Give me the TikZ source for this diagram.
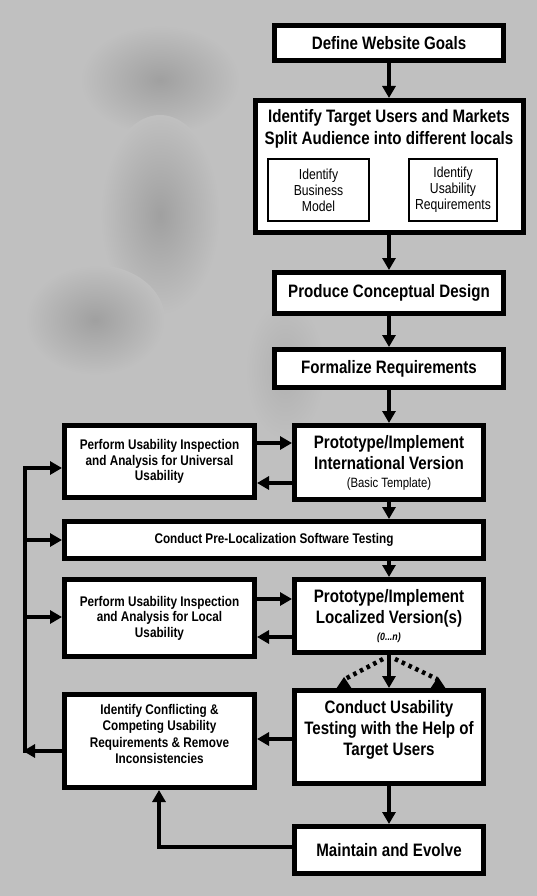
\documentclass[tikz,border=0pt]{standalone}
\usepackage{fontspec}
\setmainfont{Liberation Sans}[FakeStretch=0.84]
\usetikzlibrary{arrows.meta}
\definecolor{bg}{RGB}{192,192,192}
\definecolor{smudge}{RGB}{160,160,160}
\begin{document}
\begin{tikzpicture}[x=1pt,y=-1pt,
  box/.style={draw=black, line width=5pt, fill=white, inner sep=0pt, align=center},
  bigtxt/.style={font=\fontsize{18}{21}\selectfont\bfseries},
  midtxt/.style={font=\fontsize{14}{15.5}\selectfont\bfseries},
  inbox/.style={draw=black, line width=2pt, fill=white, inner sep=0pt, align=center, font=\fontsize{14.5}{16}\selectfont},
  txt/.style={inner sep=0pt, align=center},
  arr/.style={line width=4pt, -{Triangle[length=12pt,width=13pt]}},
  ln/.style={line width=4pt},
  dots/.style={line width=4.5pt, dash pattern=on 3.5pt off 4pt}
]
% background
\fill[bg] (0,0) rectangle (537,896);
\useasboundingbox (0,0) rectangle (537,896);
\shade[inner color=smudge, outer color=bg] (160,80) ellipse (80pt and 55pt);
\shade[inner color=smudge, outer color=bg] (160,215) ellipse (60pt and 100pt);
\shade[inner color=smudge, outer color=bg] (95,320) ellipse (70pt and 55pt);
\shade[inner color=smudge!50!bg, outer color=bg] (285,370) ellipse (40pt and 70pt);

% boxes
\node[box, minimum width=229pt, minimum height=35pt, bigtxt] (goals) at (389,43) {Define Website Goals};
\node[box, minimum width=268pt, minimum height=132pt] (target) at (389,166.5) {};
\node[txt, font=\fontsize{18}{22}\selectfont\bfseries] (targetT) at (389,129) {Identify Target Users and Markets\\Split Audience into different locals};
\node[inbox, minimum width=101pt, minimum height=62pt] (biz) at (318.5,190) {Identify\\Business\\Model};
\node[inbox, minimum width=88pt, minimum height=62pt] (usereq) at (453,190) {Identify\\Usability\\Requirements};
\node[box, minimum width=229pt, minimum height=41pt, bigtxt] (produce) at (389,293) {Produce Conceptual Design};
\node[box, minimum width=229pt, minimum height=38pt, bigtxt] (formalize) at (389,368.5) {Formalize Requirements};
\node[box, minimum width=190pt, minimum height=72pt, midtxt] (univ) at (159.5,461.5) {Perform Usability Inspection\\and Analysis for Universal\\Usability};
\node[box, minimum width=189pt, minimum height=74pt, bigtxt] (intl) at (389,462.5) {Prototype/Implement\\International Version\\[-3pt]{\fontsize{13.5}{15}\selectfont\mdseries (Basic Template)}};
\node[box, minimum width=419pt, minimum height=37pt, midtxt] (preloc) at (274,540) {Conduct Pre-Localization Software Testing};
\node[box, minimum width=190pt, minimum height=77pt, midtxt] (local) at (159.5,618) {Perform Usability Inspection\\and Analysis for Local\\Usability};
\node[box, minimum width=189pt, minimum height=73pt, bigtxt] (localized) at (389,616) {Prototype/Implement\\Localized Version(s)\\[-4pt]{\fontsize{10.5}{12}\selectfont\itshape (0...n)}};
\node[box, minimum width=190pt, minimum height=93pt] (conflict) at (159.5,741) {};
\node[txt, font=\fontsize{14}{16.2}\selectfont\bfseries] (conflictT) at (159.5,734) {Identify Conflicting \&\\Competing Usability\\Requirements \& Remove\\Inconsistencies};
\node[box, minimum width=189pt, minimum height=93pt] (testing) at (389,737) {};
\node[txt, bigtxt] (testingT) at (389,730) {Conduct Usability\\Testing with the Help of\\Target Users};
\node[box, minimum width=189pt, minimum height=47pt, bigtxt] (maintain) at (389,850) {Maintain and Evolve};

% main flow
\draw[arr] (goals.south) -- (target.north);
\draw[arr] (target.south) -- (produce.north);
\draw[arr] (produce.south) -- (formalize.north);
\draw[arr] (formalize.south) -- (intl.north);
\draw[arr] (intl.south) -- (intl.south |- preloc.north);
\draw[arr] (localized.north |- preloc.south) -- (localized.north);
\draw[arr] (localized.south) -- (testing.north);
\draw[arr] (testing.south) -- (maintain.north);

% side loops
\draw[arr] (univ.east |- 0,443) -- (intl.west |- 0,443);
\draw[arr] (intl.west |- 0,483) -- (univ.east |- 0,483);
\draw[arr] (local.east |- 0,599) -- (localized.west |- 0,599);
\draw[arr] (localized.west |- 0,637) -- (local.east |- 0,637);
\draw[arr] (testing.west |- 0,739) -- (conflict.east |- 0,739);

% feedback bus on the left
\coordinate (lt) at (25,468);
\coordinate (lp) at (25,540);
\coordinate (ll) at (25,617);
\coordinate (lb) at (25,751);
\coordinate (lbt) at (23,751);
\draw[ln, line cap=rect] (lt) -- (lb);
\draw[arr] (lt) -- (univ.west |- lt);
\draw[arr] (lp) -- (preloc.west |- lp);
\draw[arr] (ll) -- (local.west |- ll);
\draw[arr] (conflict.west |- lb) -- (lbt);

% maintain back to conflict
\coordinate (mc) at (159,847);
\draw[arr] (maintain.west |- mc) -- (mc) -- (mc |- conflict.south);

% dotted branches
\coordinate (d1s) at (383,659);
\coordinate (d1e) at (345,679);
\coordinate (d2s) at (395,659);
\coordinate (d2e) at (437,679);
\draw[dots] (d1s) -- (d1e);
\draw[dots] (d2s) -- (d2e);
\fill (344,677) -- (336,689) -- (352,689) -- cycle;
\fill (438,677) -- (430,689) -- (446,689) -- cycle;
\end{tikzpicture}
\end{document}
